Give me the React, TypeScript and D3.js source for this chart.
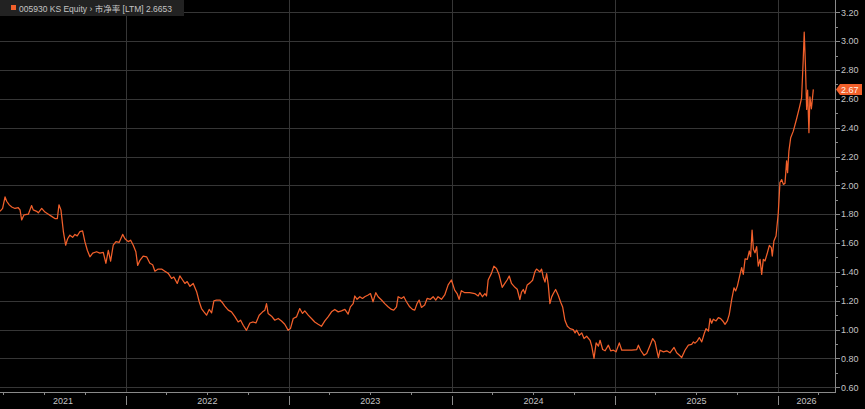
import * as d3 from 'd3';
import { useEffect, useRef } from 'react';

// P/B series, points as [decimal year, value]
const pb2021: [number, number][] = [
  [2021.227, 1.82], [2021.243, 1.84], [2021.258, 1.92], [2021.268, 1.89], [2021.284, 1.865],
  [2021.299, 1.85], [2021.319, 1.84], [2021.339, 1.845], [2021.35, 1.83], [2021.36, 1.76],
  [2021.374, 1.795], [2021.401, 1.8], [2021.421, 1.86], [2021.431, 1.83], [2021.452, 1.82],
  [2021.462, 1.81], [2021.483, 1.84], [2021.503, 1.815], [2021.524, 1.8], [2021.544, 1.785],
  [2021.564, 1.77], [2021.579, 1.77], [2021.589, 1.865], [2021.601, 1.83], [2021.616, 1.68],
  [2021.63, 1.585], [2021.642, 1.63], [2021.656, 1.655], [2021.673, 1.64], [2021.687, 1.66],
  [2021.701, 1.65], [2021.718, 1.68], [2021.734, 1.685], [2021.748, 1.61], [2021.763, 1.55],
  [2021.779, 1.505], [2021.796, 1.53], [2021.82, 1.54], [2021.84, 1.53], [2021.861, 1.535],
  [2021.877, 1.46], [2021.892, 1.55], [2021.906, 1.475], [2021.922, 1.585], [2021.939, 1.61],
  [2021.959, 1.605], [2021.98, 1.66], [2021.994, 1.63],
];

const pb2022: [number, number][] = [
  [2022.014, 1.61], [2022.029, 1.62], [2022.045, 1.585], [2022.061, 1.54], [2022.072, 1.445],
  [2022.086, 1.48], [2022.106, 1.51], [2022.127, 1.505], [2022.147, 1.46], [2022.164, 1.45],
  [2022.178, 1.405], [2022.198, 1.42], [2022.219, 1.42], [2022.239, 1.405], [2022.26, 1.39],
  [2022.28, 1.355], [2022.294, 1.365], [2022.301, 1.35], [2022.315, 1.32], [2022.331, 1.372],
  [2022.348, 1.344], [2022.362, 1.32], [2022.376, 1.333], [2022.393, 1.3], [2022.413, 1.32],
  [2022.434, 1.263], [2022.45, 1.193], [2022.464, 1.146], [2022.479, 1.123], [2022.495, 1.1],
  [2022.511, 1.14], [2022.526, 1.116], [2022.54, 1.2], [2022.556, 1.205], [2022.577, 1.205],
  [2022.593, 1.186], [2022.607, 1.163], [2022.628, 1.135], [2022.648, 1.123], [2022.669, 1.09],
  [2022.689, 1.053], [2022.704, 1.065], [2022.72, 1.03], [2022.74, 0.995], [2022.761, 1.046],
  [2022.781, 1.053], [2022.798, 1.046], [2022.818, 1.1], [2022.839, 1.123], [2022.853, 1.135],
  [2022.863, 1.18], [2022.873, 1.112], [2022.894, 1.093], [2022.914, 1.065], [2022.935, 1.077],
  [2022.955, 1.06], [2022.975, 1.037], [2022.996, 0.995],
];

const pb2023: [number, number][] = [
  [2023.01, 1.007], [2023.027, 1.077], [2023.047, 1.088], [2023.067, 1.146], [2023.084, 1.112],
  [2023.098, 1.13], [2023.119, 1.1], [2023.139, 1.077], [2023.159, 1.053], [2023.18, 1.037],
  [2023.2, 1.023], [2023.221, 1.06], [2023.241, 1.088], [2023.262, 1.123], [2023.282, 1.14],
  [2023.303, 1.123], [2023.323, 1.13], [2023.344, 1.14], [2023.364, 1.107], [2023.378, 1.158],
  [2023.395, 1.18], [2023.405, 1.233], [2023.419, 1.21], [2023.436, 1.228], [2023.452, 1.216],
  [2023.466, 1.228], [2023.487, 1.24], [2023.501, 1.25], [2023.517, 1.193], [2023.534, 1.256],
  [2023.548, 1.228], [2023.569, 1.205], [2023.589, 1.18], [2023.609, 1.158], [2023.63, 1.14],
  [2023.644, 1.135], [2023.661, 1.158], [2023.671, 1.228], [2023.691, 1.216], [2023.706, 1.228],
  [2023.722, 1.193], [2023.742, 1.158], [2023.759, 1.14], [2023.773, 1.135], [2023.787, 1.18],
  [2023.8, 1.205], [2023.814, 1.154], [2023.834, 1.17], [2023.849, 1.216], [2023.869, 1.21],
  [2023.886, 1.228], [2023.902, 1.205], [2023.916, 1.228], [2023.937, 1.21], [2023.957, 1.24],
  [2023.978, 1.31], [2023.998, 1.344],
];

const pb2024: [number, number][] = [
  [2024.018, 1.274], [2024.033, 1.25], [2024.045, 1.21], [2024.059, 1.27], [2024.08, 1.256],
  [2024.11, 1.256], [2024.141, 1.25], [2024.162, 1.233], [2024.172, 1.256], [2024.188, 1.228],
  [2024.203, 1.25], [2024.213, 1.233], [2024.223, 1.344], [2024.243, 1.39], [2024.258, 1.44],
  [2024.274, 1.424], [2024.29, 1.38], [2024.309, 1.293], [2024.325, 1.32], [2024.339, 1.344],
  [2024.352, 1.372], [2024.366, 1.32], [2024.387, 1.293], [2024.401, 1.28], [2024.417, 1.208],
  [2024.427, 1.26], [2024.438, 1.278], [2024.448, 1.25], [2024.462, 1.31], [2024.479, 1.324],
  [2024.495, 1.342], [2024.509, 1.4], [2024.519, 1.42], [2024.53, 1.41], [2024.54, 1.4],
  [2024.55, 1.42], [2024.56, 1.365], [2024.571, 1.33], [2024.581, 1.388], [2024.591, 1.31],
  [2024.601, 1.18], [2024.612, 1.227], [2024.622, 1.25], [2024.636, 1.278], [2024.652, 1.238],
  [2024.667, 1.19], [2024.679, 1.157], [2024.693, 1.065], [2024.708, 1.023], [2024.724, 1.007],
  [2024.744, 1.0], [2024.755, 0.977], [2024.765, 0.996], [2024.781, 0.96], [2024.796, 0.977],
  [2024.81, 0.938], [2024.826, 0.954], [2024.847, 0.926], [2024.857, 0.885], [2024.871, 0.8],
  [2024.884, 0.908], [2024.898, 0.885], [2024.908, 0.926], [2024.924, 0.862], [2024.939, 0.853],
  [2024.959, 0.892], [2024.973, 0.853], [2024.99, 0.857],
];

const pb2025: [number, number][] = [
  [2025.006, 0.846], [2025.026, 0.908], [2025.041, 0.857], [2025.071, 0.857], [2025.102, 0.857],
  [2025.133, 0.862], [2025.143, 0.892], [2025.157, 0.857], [2025.178, 0.822], [2025.194, 0.834],
  [2025.215, 0.892], [2025.231, 0.938], [2025.245, 0.915], [2025.256, 0.857], [2025.266, 0.806],
  [2025.276, 0.857], [2025.297, 0.846], [2025.317, 0.853], [2025.337, 0.839], [2025.362, 0.876],
  [2025.378, 0.839], [2025.395, 0.822], [2025.409, 0.806], [2025.429, 0.857], [2025.45, 0.892],
  [2025.47, 0.898], [2025.481, 0.915], [2025.491, 0.906], [2025.505, 0.922], [2025.517, 0.945],
  [2025.532, 0.915], [2025.546, 0.968], [2025.558, 1.007], [2025.573, 0.99], [2025.583, 1.076],
  [2025.593, 1.044], [2025.603, 1.072], [2025.62, 1.06], [2025.634, 1.083], [2025.648, 1.076],
  [2025.661, 1.06], [2025.675, 1.037], [2025.689, 1.06], [2025.701, 1.106], [2025.716, 1.21],
  [2025.73, 1.29], [2025.74, 1.268], [2025.751, 1.303], [2025.767, 1.383], [2025.777, 1.43],
  [2025.787, 1.383], [2025.798, 1.49], [2025.812, 1.487], [2025.824, 1.545], [2025.832, 1.506],
  [2025.841, 1.69], [2025.849, 1.557], [2025.859, 1.533], [2025.869, 1.575], [2025.879, 1.44],
  [2025.89, 1.487], [2025.9, 1.383], [2025.91, 1.487], [2025.92, 1.476], [2025.935, 1.533],
  [2025.947, 1.584], [2025.959, 1.568], [2025.965, 1.51], [2025.975, 1.614], [2025.988, 1.649],
];

const pb2026: [number, number][] = [
  [2026.002, 1.81], [2026.012, 2.02], [2026.023, 2.04], [2026.033, 2.007], [2026.043, 2.014],
  [2026.053, 2.17], [2026.059, 2.088], [2026.067, 2.238], [2026.078, 2.33], [2026.094, 2.376],
  [2026.114, 2.46], [2026.131, 2.538], [2026.145, 2.607], [2026.155, 2.873], [2026.161, 3.062],
  [2026.168, 2.85], [2026.176, 2.527], [2026.182, 2.66], [2026.19, 2.365], [2026.196, 2.614],
  [2026.205, 2.531], [2026.211, 2.596], [2026.217, 2.6653],
];

const yTicks = [0.6, 0.8, 1.0, 1.2, 1.4, 1.6, 1.8, 2.0, 2.2, 2.4, 2.6, 2.8, 3.0, 3.2];
const yearLabels = ['2021', '2022', '2023', '2024', '2025', '2026'];
const xStart = 2021.227;
const xEnd = 2026.35;
const security = '005930 KS Equity';
const field = '市净率 [LTM]';
const lastValue = 2.6653;

// decimal year -> Date
const toDate = (t: number) => {
  const y = Math.floor(t);
  const a = new Date(y, 0, 1).getTime();
  const b = new Date(y + 1, 0, 1).getTime();
  return new Date(a + (t - y) * (b - a));
};

const ORANGE = '#f2602b';
const GRID = '#363636';
const TEXT = '#c4c4c4';
const FONT = '"Liberation Sans", Arial, "Noto Sans CJK SC", sans-serif';

export default function App() {
  const svgRef = useRef<SVGSVGElement>(null);

  useEffect(() => {
    if (!svgRef.current) return;
    const width = 865;
    const height = 409;
    const plotRight = 835;
    const axisY = 392;

    const data = [...pb2021, ...pb2022, ...pb2023, ...pb2024, ...pb2025, ...pb2026]
      .map(([t, v]) => ({ date: toDate(t), value: v }));

    const x = d3.scaleTime().domain([toDate(xStart), toDate(xEnd)]).range([0, plotRight]);
    const y = d3.scaleLinear().domain([0.6, 3.2]).range([387.3, 12.3]);

    const svg = d3.select(svgRef.current);
    svg.selectAll('*').remove();
    svg.attr('width', width).attr('height', height);

    svg.append('rect').attr('width', width).attr('height', height).attr('fill', '#000');

    // horizontal grid
    svg.append('g')
      .selectAll('line')
      .data(yTicks)
      .enter()
      .append('line')
      .attr('x1', 0)
      .attr('x2', plotRight)
      .attr('y1', (d) => Math.round(y(d)) + 0.5)
      .attr('y2', (d) => Math.round(y(d)) + 0.5)
      .attr('stroke', GRID);

    // vertical grid at year starts
    const years = yearLabels.map((l) => new Date(+l, 0, 1));
    const yearStarts = years.filter((d) => x(d) > 0 && x(d) < plotRight);
    svg.append('g')
      .selectAll('line')
      .data(yearStarts)
      .enter()
      .append('line')
      .attr('x1', (d) => Math.round(x(d)) + 0.5)
      .attr('x2', (d) => Math.round(x(d)) + 0.5)
      .attr('y1', 0)
      .attr('y2', axisY)
      .attr('stroke', GRID);

    // series
    const line = d3.line<{ date: Date; value: number }>()
      .x((d) => x(d.date))
      .y((d) => y(d.value));
    svg.append('path')
      .datum(data)
      .attr('d', line)
      .attr('fill', 'none')
      .attr('stroke', ORANGE)
      .attr('stroke-width', 1.25)
      .attr('stroke-linejoin', 'round');

    // bottom axis
    svg.append('line')
      .attr('x1', 0).attr('x2', plotRight + 0.5)
      .attr('y1', axisY + 0.5).attr('y2', axisY + 0.5)
      .attr('stroke', '#8a8a8a');

    const quarters = d3.timeMonth.every(3)!.range(toDate(xStart), toDate(xEnd))
      .filter((d) => d.getMonth() !== 0);
    svg.append('g')
      .selectAll('line')
      .data(quarters)
      .enter()
      .append('line')
      .attr('x1', (d) => Math.round(x(d)) + 0.5)
      .attr('x2', (d) => Math.round(x(d)) + 0.5)
      .attr('y1', axisY)
      .attr('y2', axisY + 3)
      .attr('stroke', '#8a8a8a');

    svg.append('g')
      .selectAll('line')
      .data(yearStarts)
      .enter()
      .append('line')
      .attr('x1', (d) => Math.round(x(d)) + 0.5)
      .attr('x2', (d) => Math.round(x(d)) + 0.5)
      .attr('y1', axisY + 4)
      .attr('y2', axisY + 13)
      .attr('stroke', '#8a8a8a');

    svg.append('g')
      .selectAll('text')
      .data(years)
      .enter()
      .append('text')
      .attr('x', (d) => {
        const a = Math.max(0, x(d));
        const b = Math.min(plotRight, x(d3.timeYear.offset(d, 1)));
        return (a + b) / 2;
      })
      .attr('y', 404)
      .attr('text-anchor', 'middle')
      .attr('font-family', FONT)
      .attr('font-size', 9)
      .attr('fill', TEXT)
      .text((d, i) => yearLabels[i]);

    // right axis
    svg.append('line')
      .attr('x1', plotRight + 0.5).attr('x2', plotRight + 0.5)
      .attr('y1', 0).attr('y2', axisY + 1)
      .attr('stroke', '#8a8a8a');

    const minor = d3.range(0.7, 3.2, 0.2);
    svg.append('g')
      .selectAll('line')
      .data(minor)
      .enter()
      .append('line')
      .attr('x1', plotRight)
      .attr('x2', plotRight + 3)
      .attr('y1', (d) => Math.round(y(d)) + 0.5)
      .attr('y2', (d) => Math.round(y(d)) + 0.5)
      .attr('stroke', '#8a8a8a');

    const yAxis = svg.append('g');
    yAxis.selectAll('line')
      .data(yTicks)
      .enter()
      .append('line')
      .attr('x1', plotRight)
      .attr('x2', plotRight + 5)
      .attr('y1', (d) => Math.round(y(d)) + 0.5)
      .attr('y2', (d) => Math.round(y(d)) + 0.5)
      .attr('stroke', '#8a8a8a');
    yAxis.selectAll('text')
      .data(yTicks)
      .enter()
      .append('text')
      .attr('x', plotRight + 6)
      .attr('y', (d) => y(d) + 3.2)
      .attr('font-family', FONT)
      .attr('font-size', 9)
      .attr('fill', TEXT)
      .text((d) => d3.format('.2f')(d));

    // last value tag
    const ly = y(lastValue);
    svg.append('path')
      .attr('d', `M${plotRight + 1},${ly} L${plotRight + 5},${ly - 5.5} L${plotRight + 27},${ly - 5.5} L${plotRight + 27},${ly + 5.5} L${plotRight + 5},${ly + 5.5} Z`)
      .attr('fill', ORANGE);
    svg.append('text')
      .attr('x', plotRight + 6)
      .attr('y', ly + 3.3)
      .attr('font-family', FONT)
      .attr('font-size', 9)
      .attr('fill', '#fff3ea')
      .text(d3.format('.2f')(lastValue));

    // legend header
    svg.append('rect')
      .attr('x', 0).attr('y', 0).attr('width', 184).attr('height', 16)
      .attr('fill', '#222222');
    svg.append('rect')
      .attr('x', 11).attr('y', 5).attr('width', 5).attr('height', 5)
      .attr('fill', ORANGE);
    svg.append('text')
      .attr('x', 19)
      .attr('y', 11.5)
      .attr('font-family', FONT)
      .attr('font-size', 8.5)
      .attr('fill', TEXT)
      .attr('textLength', 153)
      .attr('lengthAdjust', 'spacingAndGlyphs')
      .text(`${security} \u203A ${field} ${lastValue}`);
  }, []);

  return <svg ref={svgRef} style={{ position: 'fixed', left: 0, top: 0, display: 'block' }} />;
}
